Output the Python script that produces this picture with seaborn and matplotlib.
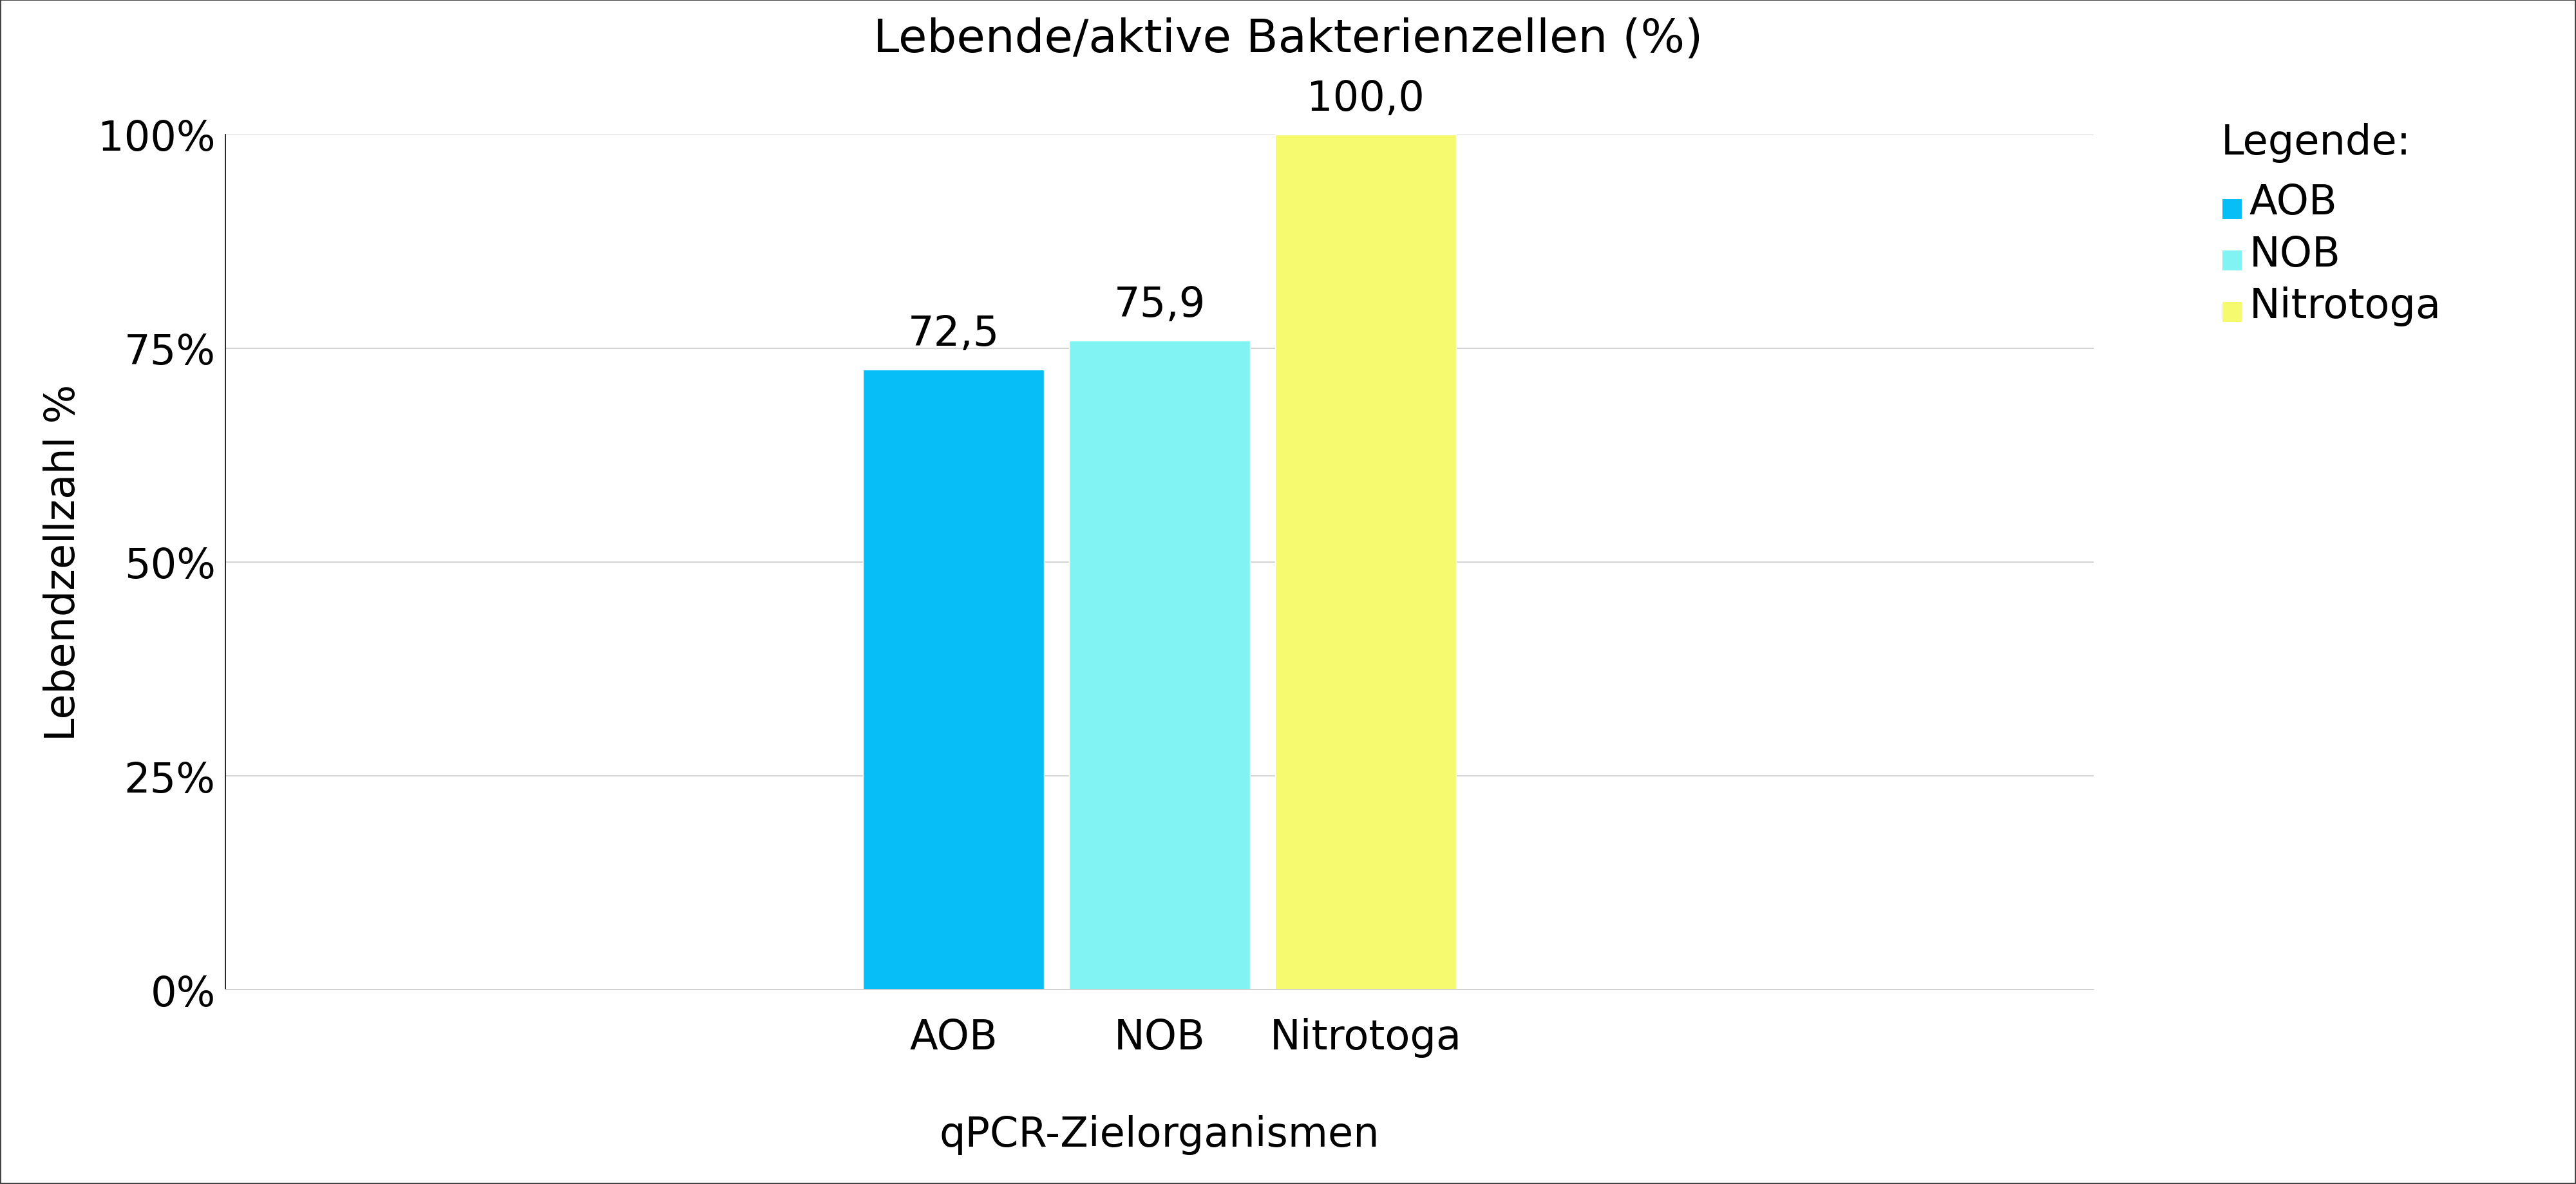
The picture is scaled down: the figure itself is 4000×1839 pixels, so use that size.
import matplotlib
matplotlib.use('Agg')
import matplotlib.pyplot as plt
from matplotlib.lines import Line2D
from matplotlib.path import Path
from matplotlib.ticker import PercentFormatter
import seaborn as sns
import pandas as pd

#  Werte aus dem Diagramm
organismen = ['AOB', 'NOB', 'Nitrotoga']
lebend = [72.5, 75.9, 100.0]
farben = ['#08BFF5', '#82F3F3', '#F5FA6E']
yticks = [0, 25, 50, 75, 100]

df = pd.DataFrame({'Organismus': organismen, 'Lebend': lebend})

sns.set_theme(style='white')
plt.rcParams['font.family'] = ['DejaVu Sans']
for k in ['text.color', 'axes.labelcolor', 'xtick.color', 'ytick.color']:
    plt.rcParams[k] = 'black'
fs = 46

fig = plt.figure(figsize=(40, 18.4), dpi=100)
fig.patch.set_edgecolor('#444444')
fig.patch.set_linewidth(1.5)
ax = fig.add_axes([0.0875, 0.1641, 0.7253, 0.7218])

sns.barplot(data=df, x='Organismus', y='Lebend', hue='Organismus',
            palette=farben, saturation=1, width=0.878, legend=False, ax=ax)

#  Beschriftung der Balken mit Komma als Dezimaltrennzeichen
for cont, v in zip(ax.containers, lebend):
    ax.bar_label(cont, labels=[f'{v:.1f}'.replace('.', ',')], padding=18, fontsize=fs)

ax.set_xlim(-3.533, 5.533)
ax.set_ylim(0, 100)
ax.set_yticks(yticks)
ax.yaxis.set_major_formatter(PercentFormatter(xmax=100, decimals=0))
ax.tick_params(axis='y', length=0, pad=11, labelsize=fs)
ax.tick_params(axis='x', length=0, pad=31, labelsize=fs)

ax.set_axisbelow(True)
ax.grid(axis='y', color='#d0d0d0', linewidth=1.3)
for s in ['top', 'right']:
    ax.spines[s].set_visible(False)
ax.spines['left'].set_color('black')
ax.spines['left'].set_linewidth(1.2)
ax.spines['bottom'].set_color('#d0d0d0')
ax.spines['bottom'].set_linewidth(1.3)

ax.set_xlabel('qPCR-Zielorganismen', fontsize=fs, labelpad=64)
ax.set_ylabel('Lebendzellzahl %', fontsize=fs, labelpad=17)
fig.text(0.5, 1 - 80 / 1840, 'Lebende/aktive Bakterienzellen (%)', ha='center',
         va='baseline', fontsize=52)

#  Legende: Quadrat etwas unter der Textmitte, wie im Original
quadrat = Path([(-0.5, -0.975), (0.5, -0.975), (0.5, 0.025), (-0.5, 0.025), (-0.5, -0.975)],
               [Path.MOVETO, Path.LINETO, Path.LINETO, Path.LINETO, Path.CLOSEPOLY])
handles = [Line2D([], [], marker=quadrat, linestyle='', markersize=42.8,
                  markerfacecolor=c, markeredgewidth=0) for c in farben]
fig.text(0.8622, 1 - 240 / 1840, 'Legende:', ha='left', va='baseline', fontsize=fs)
fig.legend(handles, organismen, loc='upper left', bbox_to_anchor=(0.8625, 0.8454),
           frameon=False, fontsize=fs, borderpad=0, borderaxespad=0, handlelength=0.5,
           handletextpad=0.17, labelspacing=0.283)

fig.savefig('out.png', dpi=100, edgecolor=fig.get_edgecolor())
